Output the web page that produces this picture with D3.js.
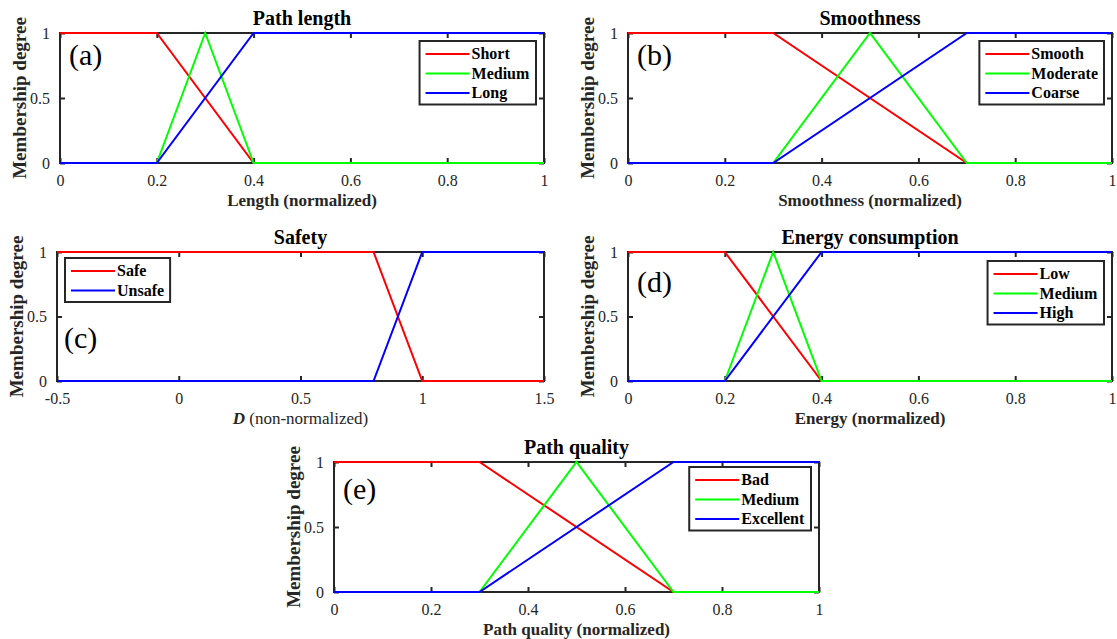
<!DOCTYPE html>
<html>
<head>
<meta charset="utf-8">
<script src="https://cdnjs.cloudflare.com/ajax/libs/d3/7.8.5/d3.min.js"></script>
<style>
  body { margin: 0; background: #fff; }
  svg text { font-family: "Liberation Serif", "Times New Roman", serif !important; }
</style>
</head>
<body>
<svg id="fig" width="1117" height="639"></svg>
<script>
// tick values
var xTicksNorm = [0, 0.2, 0.4, 0.6, 0.8, 1];
var xTicksSafety = [-0.5, 0, 0.5, 1, 1.5];
var yTicks = [0, 0.5, 1];

// membership functions, [x, degree]
var lengthShort  = [[0, 1], [0.2, 1], [0.4, 0], [1, 0]];
var lengthMedium = [[0, 0], [0.2, 0], [0.3, 1], [0.4, 0], [1, 0]];
var lengthLong   = [[0, 0], [0.2, 0], [0.4, 1], [1, 1]];

var smoothSmooth   = [[0, 1], [0.3, 1], [0.7, 0], [1, 0]];
var smoothModerate = [[0, 0], [0.3, 0], [0.5, 1], [0.7, 0], [1, 0]];
var smoothCoarse   = [[0, 0], [0.3, 0], [0.7, 1], [1, 1]];

var safetySafe   = [[-0.5, 1], [0.8, 1], [1, 0], [1.5, 0]];
var safetyUnsafe = [[-0.5, 0], [0.8, 0], [1, 1], [1.5, 1]];

var energyLow    = [[0, 1], [0.2, 1], [0.4, 0], [1, 0]];
var energyMedium = [[0, 0], [0.2, 0], [0.3, 1], [0.4, 0], [1, 0]];
var energyHigh   = [[0, 0], [0.2, 0], [0.4, 1], [1, 1]];

var qualityBad       = [[0, 1], [0.3, 1], [0.7, 0], [1, 0]];
var qualityMedium    = [[0, 0], [0.3, 0], [0.5, 1], [0.7, 0], [1, 0]];
var qualityExcellent = [[0, 0], [0.3, 0], [0.7, 1], [1, 1]];

var red = "#ff0000", green = "#00ff00", blue = "#0000ff";

var panels = [
  { tag: "(a)", title: "Path length", xlabel: "Length (normalized)", xdom: [0, 1], xticks: xTicksNorm,
    box: [60, 544, 33, 163], tagPos: [69, 65], legend: "right",
    series: [["Short", lengthShort, red], ["Medium", lengthMedium, green], ["Long", lengthLong, blue]] },
  { tag: "(b)", title: "Smoothness", xlabel: "Smoothness (normalized)", xdom: [0, 1], xticks: xTicksNorm,
    box: [628, 1112, 33, 163], tagPos: [637, 65], legend: "right",
    series: [["Smooth", smoothSmooth, red], ["Moderate", smoothModerate, green], ["Coarse", smoothCoarse, blue]] },
  { tag: "(c)", title: "Safety", xlabel: null, xdom: [-0.5, 1.5], xticks: xTicksSafety,
    box: [57, 544, 252, 381], tagPos: [64, 348], legend: "left",
    series: [["Safe", safetySafe, red], ["Unsafe", safetyUnsafe, blue]] },
  { tag: "(d)", title: "Energy consumption", xlabel: "Energy (normalized)", xdom: [0, 1], xticks: xTicksNorm,
    box: [628, 1112, 252, 381], tagPos: [637, 292], legend: "right",
    series: [["Low", energyLow, red], ["Medium", energyMedium, green], ["High", energyHigh, blue]] },
  { tag: "(e)", title: "Path quality", xlabel: "Path quality (normalized)", xdom: [0, 1], xticks: xTicksNorm,
    box: [334, 819, 462, 592], tagPos: [343, 499], legend: "right",
    series: [["Bad", qualityBad, red], ["Medium", qualityMedium, green], ["Excellent", qualityExcellent, blue]] }
];

var svg = d3.select("#fig");
var fmt = function(d) { return String(d); };

panels.forEach(function(p) {
  var x = d3.scaleLinear().domain(p.xdom).range([p.box[0], p.box[1]]);
  var y = d3.scaleLinear().domain([0, 1]).range([p.box[3], p.box[2]]);
  var g = svg.append("g");

  // box
  g.append("rect")
    .attr("x", p.box[0]).attr("y", p.box[2])
    .attr("width", p.box[1] - p.box[0]).attr("height", p.box[3] - p.box[2])
    .attr("fill", "none").attr("stroke", "#262626").attr("stroke-width", 2);

  // axes with inward ticks on all four sides
  var ax = g.append("g").attr("transform", "translate(0," + p.box[3] + ")")
    .call(d3.axisBottom(x).tickValues(p.xticks).tickFormat(fmt).tickSizeInner(-5).tickSizeOuter(0).tickPadding(12));
  var axt = g.append("g").attr("transform", "translate(0," + p.box[2] + ")")
    .call(d3.axisTop(x).tickValues(p.xticks).tickFormat("").tickSizeInner(-5).tickSizeOuter(0));
  var ay = g.append("g").attr("transform", "translate(" + p.box[0] + ",0)")
    .call(d3.axisLeft(y).tickValues(yTicks).tickFormat(fmt).tickSizeInner(-5).tickSizeOuter(0).tickPadding(10));
  var ayr = g.append("g").attr("transform", "translate(" + p.box[1] + ",0)")
    .call(d3.axisRight(y).tickValues(yTicks).tickFormat("").tickSizeInner(-5).tickSizeOuter(0));
  [ax, axt, ay, ayr].forEach(function(a) {
    a.attr("font-family", null).attr("font-size", null);
    a.select(".domain").remove();
    a.selectAll(".tick line").attr("stroke", "#262626").attr("stroke-width", 2);
    a.selectAll(".tick text").attr("font-size", 16).attr("fill", "#262626");
  });

  // lines
  var line = d3.line().x(function(d) { return x(d[0]); }).y(function(d) { return y(d[1]); });
  p.series.forEach(function(s) {
    g.append("path").datum(s[1]).attr("d", line)
      .attr("fill", "none").attr("stroke", s[2]).attr("stroke-width", 2);
  });

  var cx = (p.box[0] + p.box[1]) / 2;
  // title
  g.append("text").attr("x", cx).attr("y", p.box[2] - 8)
    .attr("text-anchor", "middle").attr("font-weight", "bold").attr("font-size", 20).attr("fill", "#000")
    .text(p.title);

  // x label
  var xl = g.append("text").attr("x", cx).attr("y", p.box[3] + 43)
    .attr("text-anchor", "middle").attr("font-size", 17).attr("fill", "#262626");
  if (p.xlabel) {
    xl.attr("font-weight", "bold").text(p.xlabel);
  } else {
    xl.append("tspan").attr("font-weight", "bold").attr("font-style", "italic").text("D");
    xl.append("tspan").text(" (non-normalized)");
  }

  // y label
  var ly = (p.box[2] + p.box[3]) / 2;
  g.append("text").attr("transform", "translate(" + (p.box[0] - 34) + "," + ly + ") rotate(-90)")
    .attr("text-anchor", "middle").attr("font-weight", "bold").attr("font-size", 19).attr("fill", "#262626")
    .text("Membership degree");

  // panel tag
  g.append("text").attr("x", p.tagPos[0]).attr("y", p.tagPos[1])
    .attr("font-size", 30).attr("fill", "#000").text(p.tag);

  // legend
  var lg = g.append("g");
  var rowH = 19.5, lineLen = 44;
  var items = lg.selectAll("g.item").data(p.series).enter().append("g").attr("class", "item")
    .attr("transform", function(d, i) { return "translate(6," + (13 + i * rowH) + ")"; });
  items.append("line").attr("x1", 0).attr("x2", lineLen).attr("y1", 0).attr("y2", 0)
    .attr("stroke", function(d) { return d[2]; }).attr("stroke-width", 2);
  items.append("text").attr("x", lineLen + 2).attr("y", 5)
    .attr("font-weight", "bold").attr("font-size", 16).attr("fill", "#000")
    .text(function(d) { return d[0]; });
  var bb = lg.node().getBBox();
  var lw = bb.width + 12, lh = p.series.length * rowH + 5;
  lg.insert("rect", ":first-child").attr("x", 0).attr("y", 0).attr("width", lw).attr("height", lh)
    .attr("fill", "#fff").attr("stroke", "#262626").attr("stroke-width", 2);
  var lx = p.legend === "right" ? p.box[1] - 8 - lw : p.box[0] + 8;
  var ly0 = p.legend === "right" ? p.box[2] + 8 : p.box[2] + 6;
  if (p.tag === "(d)") ly0 = p.box[2] + 9;
  if (p.tag === "(e)") ly0 = p.box[2] + 5;
  lg.attr("transform", "translate(" + lx + "," + ly0 + ")");
});
</script>
</body>
</html>
